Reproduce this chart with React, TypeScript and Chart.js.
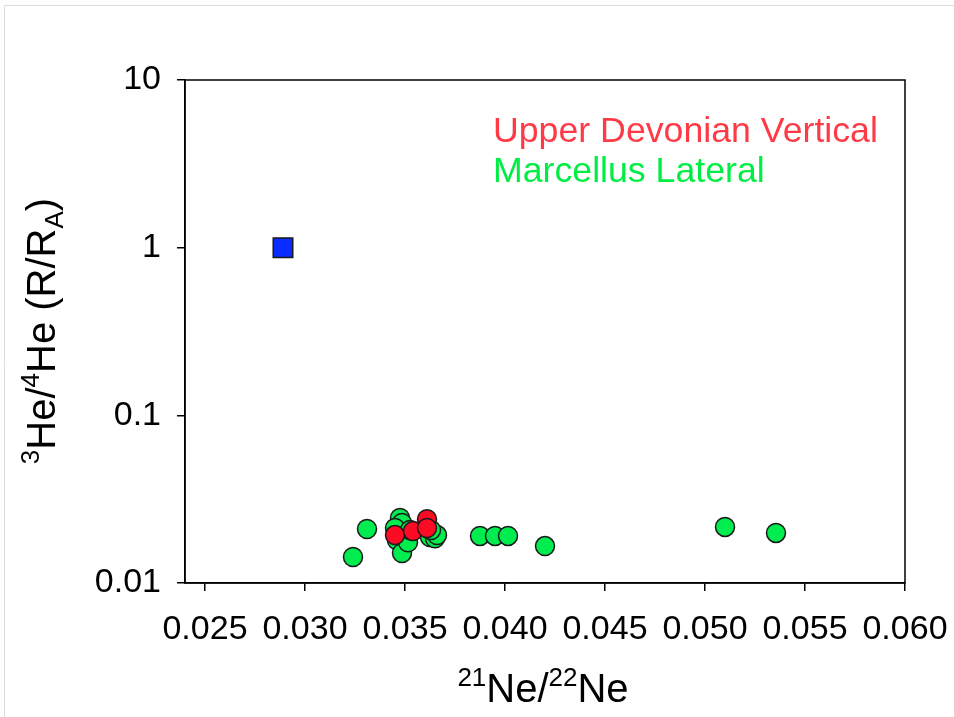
import React, { useEffect, useRef } from "react";
import { Chart, registerables } from "chart.js";

Chart.register(...registerables);

const xTicks = [0.025, 0.03, 0.035, 0.04, 0.045, 0.05, 0.055, 0.06];
const xTickLabels = ["0.025", "0.030", "0.035", "0.040", "0.045", "0.050", "0.055", "0.060"];
const yTicks = [0.01, 0.1, 1, 10];
const yTickLabels = ["0.01", "0.1", "1", "10"];

const upperDevonianX = [0.0345, 0.0354, 0.0361, 0.0361];
const upperDevonianY = [0.0193, 0.0204, 0.024, 0.0213];

const marcellusX = [
  0.0324, 0.0331, 0.03475, 0.03485, 0.0345, 0.0346, 0.03485, 0.03515, 0.03525,
  0.03625, 0.0365, 0.0366, 0.0363, 0.03875, 0.0395, 0.04015, 0.042, 0.051, 0.05355,
];
const marcellusY = [
  0.0143, 0.021, 0.0244, 0.0228, 0.0213, 0.018, 0.0151, 0.0175, 0.0207,
  0.0188, 0.0185, 0.0193, 0.0207, 0.0191, 0.0191, 0.0191, 0.0166, 0.0216, 0.0199,
];

const airX = [0.0289];
const airY = [1.0];

const legendLabels = ["Upper Devonian Vertical", "Marcellus Lateral"];
const legendColors = ["#ff3a47", "#00ee44"];

const FAMILY = "'Liberation Sans', Arial, sans-serif";

type Part = { t: string; k: "n" | "sup" | "sub" };

function drawRich(ctx: CanvasRenderingContext2D, parts: Part[], F: number) {
  const sizeOf = (k: string) => (k === "n" ? F : Math.round(F * 0.66));
  let total = 0;
  const widths = parts.map((p) => {
    ctx.font = `${sizeOf(p.k)}px ${FAMILY}`;
    const w = ctx.measureText(p.t).width;
    total += w;
    return w;
  });
  let x = -total / 2;
  parts.forEach((p, i) => {
    ctx.font = `${sizeOf(p.k)}px ${FAMILY}`;
    const dy = p.k === "sup" ? -F * 0.4 : p.k === "sub" ? F * 0.2 : 0;
    ctx.fillText(p.t, x, dy);
    x += widths[i];
  });
}

const decorPlugin = {
  id: "decor",
  beforeDraw(chart: any) {
    const ctx = chart.ctx as CanvasRenderingContext2D;
    ctx.save();
    ctx.fillStyle = "#ffffff";
    ctx.fillRect(0, 0, chart.width, chart.height);
    ctx.strokeStyle = "#dcdcdc";
    ctx.lineWidth = 1;
    ctx.beginPath();
    ctx.moveTo(4.5, chart.height);
    ctx.lineTo(4.5, 5.5);
    ctx.lineTo(chart.width, 5.5);
    ctx.stroke();
    ctx.restore();
  },
  afterDatasetsDraw(chart: any) {
    const ctx = chart.ctx as CanvasRenderingContext2D;
    const a = chart.chartArea;
    ctx.save();
    ctx.strokeStyle = "#000";
    ctx.lineWidth = 1.5;
    ctx.strokeRect(a.left, a.top, a.right - a.left, a.bottom - a.top);

    // legend text
    ctx.textBaseline = "alphabetic";
    ctx.textAlign = "left";
    ctx.font = `35.7px ${FAMILY}`;
    legendLabels.forEach((l, i) => {
      ctx.fillStyle = legendColors[i];
      ctx.fillText(l, 493, 142 + i * 40);
    });

    // axis titles
    ctx.fillStyle = "#000";
    ctx.save();
    ctx.translate(543, 702);
    drawRich(
      ctx,
      [
        { t: "21", k: "sup" },
        { t: "Ne/", k: "n" },
        { t: "22", k: "sup" },
        { t: "Ne", k: "n" },
      ],
      40
    );
    ctx.restore();

    ctx.save();
    ctx.translate(55, 331);
    ctx.rotate(-Math.PI / 2);
    drawRich(
      ctx,
      [
        { t: "3", k: "sup" },
        { t: "He/", k: "n" },
        { t: "4", k: "sup" },
        { t: "He (R/R", k: "n" },
        { t: "A", k: "sub" },
        { t: ")", k: "n" },
      ],
      40
    );
    ctx.restore();
    ctx.restore();
  },
};

export default function App() {
  const ref = useRef<HTMLCanvasElement | null>(null);

  useEffect(() => {
    if (!ref.current) return;
    const toPts = (xs: number[], ys: number[]) => xs.map((x, i) => ({ x, y: ys[i] }));
    const chart = new Chart(ref.current, {
      type: "scatter",
      data: {
        datasets: [
          {
            label: legendLabels[0],
            data: toPts(upperDevonianX, upperDevonianY),
            backgroundColor: "#ff0a25",
            borderColor: "#1a1a1a",
            borderWidth: 1.5,
            pointRadius: 9.5,
            order: 0,
          },
          {
            label: legendLabels[1],
            data: toPts(marcellusX, marcellusY),
            backgroundColor: "#00ec4f",
            borderColor: "#1a1a1a",
            borderWidth: 1.5,
            pointRadius: 9.5,
            order: 1,
          },
          {
            label: "Air",
            data: toPts(airX, airY),
            backgroundColor: "#0a2cff",
            borderColor: "#1a1a1a",
            borderWidth: 1.5,
            pointStyle: "rect",
            pointRadius: 13.8,
            order: 2,
          },
        ],
      },
      options: {
        responsive: false,
        animation: false,
        layout: { padding: { left: 0, top: 80, right: 49, bottom: 0 } },
        plugins: { legend: { display: false }, tooltip: { enabled: false } },
        scales: {
          x: {
            type: "linear",
            min: 0.024,
            max: 0.06,
            afterBuildTicks: (s: any) => {
              s.ticks = xTicks.map((v) => ({ value: v }));
            },
            afterFit: (s: any) => {
              s.height = 134;
              s.paddingLeft = 0;
              s.paddingRight = 0;
            },
            ticks: {
              autoSkip: false,
              maxRotation: 0,
              padding: 18,
              color: "#000",
              font: { size: 34, family: FAMILY },
              callback: (v: any) => {
                const i = xTicks.findIndex((t) => Math.abs(t - v) < 1e-9);
                return i >= 0 ? xTickLabels[i] : "";
              },
            },
            grid: {
              display: true,
              drawOnChartArea: false,
              drawTicks: true,
              tickLength: 8,
              color: "#000",
              lineWidth: 1.5,
            },
            border: { display: true, color: "#000", width: 1.5 },
          },
          y: {
            type: "logarithmic",
            min: 0.01,
            max: 10,
            afterBuildTicks: (s: any) => {
              s.ticks = yTicks.map((v) => ({ value: v }));
            },
            afterFit: (s: any) => {
              s.width = 185;
              s.paddingTop = 0;
              s.paddingBottom = 0;
            },
            ticks: {
              autoSkip: false,
              padding: 16,
              color: "#000",
              font: { size: 34, family: FAMILY },
              callback: (v: any) => {
                const i = yTicks.findIndex((t) => Math.abs(Math.log10(t) - Math.log10(v)) < 1e-6);
                return i >= 0 ? yTickLabels[i] : "";
              },
            },
            grid: {
              display: true,
              drawOnChartArea: false,
              drawTicks: true,
              tickLength: 8,
              color: "#000",
              lineWidth: 1.5,
            },
            border: { display: true, color: "#000", width: 1.5 },
          },
        },
      },
      plugins: [decorPlugin],
    });
    return () => chart.destroy();
  }, []);

  return (
    <div style={{ position: "absolute", left: 0, top: 0, width: 954, height: 717, background: "#fff" }}>
      <canvas ref={ref} width={954} height={717} style={{ display: "block" }} />
    </div>
  );
}
